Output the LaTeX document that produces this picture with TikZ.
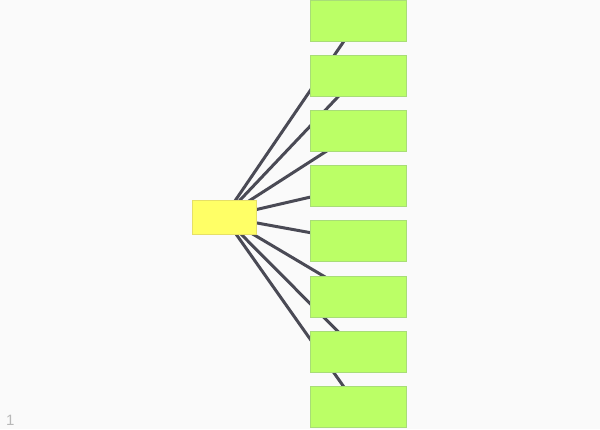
\documentclass[tikz,border=0pt]{standalone}
\usepackage{fontspec}
\setmainfont{Liberation Sans}
\definecolor{bg}{HTML}{FAFAFA}
\definecolor{hubfill}{HTML}{FFFF66}
\definecolor{hubline}{HTML}{E6E066}
\definecolor{leaffill}{HTML}{BBFF66}
\definecolor{leafline}{HTML}{A8DD77}
\definecolor{edgecol}{HTML}{4A4A55}
\definecolor{numcol}{HTML}{B8B8B8}
\pgfdeclarelayer{bglayer}
\pgfdeclarelayer{edgelayer}
\pgfsetlayers{bglayer,edgelayer,main}
\begin{document}
\begin{tikzpicture}[x=1pt,y=1pt,
  hub/.style={draw=hubline,fill=hubfill,line width=0.8pt,minimum width=64pt,minimum height=34pt,inner sep=0pt},
  leaf/.style={draw=leafline,fill=leaffill,line width=0.8pt,minimum width=96pt,minimum height=41pt,inner sep=0pt},
  edge/.style={draw=edgecol,line width=3pt}]
\begin{pgfonlayer}{bglayer}
\fill[bg] (0,0) rectangle (600,-429);
\end{pgfonlayer}
\useasboundingbox (0,0) rectangle (600,-429);
\node[hub] (h) at (224,-217) {};
\foreach \i in {1,...,8}{
  \pgfmathsetmacro{\yy}{-(20.5+55.2*(\i-1))}
  \node[leaf] (l\i) at (358,\yy) {};
}
\begin{pgfonlayer}{edgelayer}
\foreach \i in {1,...,8}{
  \draw[edge] (h.center) -- (l\i.center);
}
\end{pgfonlayer}
\node[text=numcol,font=\fontsize{15}{15}\selectfont,anchor=base west,inner sep=0pt] (num) at (6,-425) {1};
\end{tikzpicture}
\end{document}
